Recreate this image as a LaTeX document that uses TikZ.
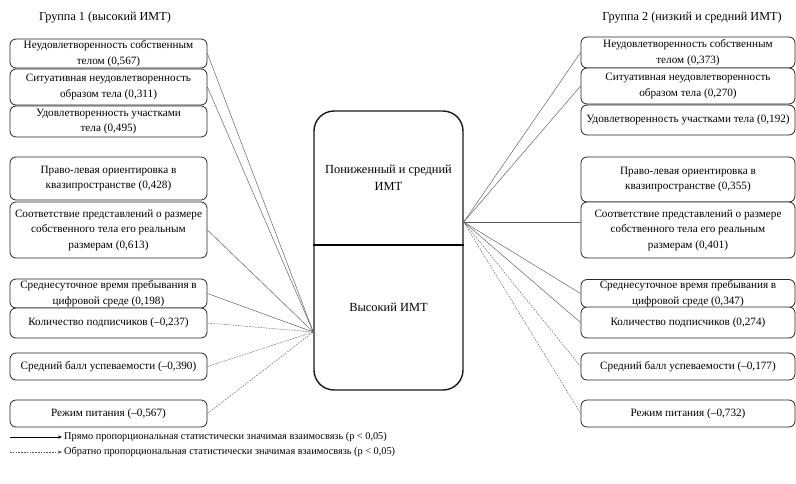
\documentclass[tikz,border=0pt]{standalone}
\usepackage{fontspec}
\setmainfont{Liberation Serif}
\usetikzlibrary{arrows.meta, positioning}
\tikzset{
        item box/.style={
		draw=black!85,
		line width=0.8pt,
		rounded corners=6pt,
		fill=white,
		align=center,
		inner sep=1pt,
		minimum width={#1},
		font=\fontsize{11.2}{15.5}\selectfont,
	  },
  		left box/.style={item box=197pt},
  		right box/.style={item box=214pt},
  		main box/.style={
    	draw=black!90,
    	line width=1.4pt,
    	rounded corners=20pt,
      },
  		heading/.style={font=\fontsize{12.2}{14}\selectfont},
  		centre text/.style={align=center, font=\fontsize{12.4}{17}\selectfont},
  		legend/.style={anchor=west, inner sep=2pt, font=\fontsize{10.3}{12}\selectfont},
  		link/.style={draw=black!65, line width=0.45pt},
  		neg link/.style={link, dash pattern=on 1.6pt off 1.2pt},
  	}
\begin{document}
\begin{tikzpicture}[x=1pt, y=-1pt]
    \useasboundingbox (0,0) rectangle (796,483);
    % group titles
    \node[heading] (h1) at (105,18) {Группа 1 (высокий ИМТ)};
    \node[heading] (h2) at (692,18) {Группа 2 (низкий и средний ИМТ)};

    % central block
    \node[main box, minimum width=149pt, minimum height=279pt] (main) at (388.5,250.5) {};
    \draw[line width=2pt] (main.west |- 0,245) -- (main.east |- 0,245);
    \node[centre text] (upper) at (388.5,178) {Пониженный и средний\\ИМТ};
    \node[centre text] (lower) at (388.5,307) {Высокий ИМТ};
    \coordinate (lc) at (main.west |- 0,332);
    \coordinate (rc) at (main.east |- 0,222);

    % group 1
    \node[left box, minimum height=29pt] (l1) at (108.5,53.5) {Неудовлетворенность собственным\\телом (0,567)};
    \node[left box, minimum height=36pt] (l2) at (108.5,87) {Ситуативная неудовлетворенность\\образом тела (0,311)};
    \node[left box, minimum height=31pt] (l3) at (108.5,121.5) {Удовлетворенность участками\\тела (0,495)};
    \node[left box, minimum height=43pt] (l4) at (108.5,178.5) {Право-левая ориентировка в\\квазипространстве (0,428)};
    \node[left box, minimum height=56pt] (l5) at (108.5,230) {Соответствие представлений о размере\\собственного тела его реальным\\размерам (0,613)};
    \node[left box, minimum height=29pt] (l6) at (108.5,293.5) {Среднесуточное время пребывания в\\цифровой среде (0,198)};
    \node[left box, minimum height=30pt] (l7) at (108.5,323) {Количество подписчиков (–0,237)};
    \node[left box, minimum height=27pt] (l8) at (108.5,366.5) {Средний балл успеваемости (–0,390)};
    \node[left box, minimum height=27pt] (l9) at (108.5,413.5) {Режим питания (–0,567)};

    % group 2
    \node[right box, minimum height=31pt] (r1) at (688,52.5) {Неудовлетворенность собственным\\телом (0,373)};
    \node[right box, minimum height=36pt] (r2) at (688,86) {Ситуативная неудовлетворенность\\образом тела (0,270)};
    \node[right box, minimum height=30pt] (r3) at (688,120) {Удовлетворенность участками тела (0,192)};
    \node[right box, minimum height=45pt] (r4) at (688,179.5) {Право-левая ориентировка в\\квазипространстве (0,355)};
    \node[right box, minimum height=56pt] (r5) at (688,230) {Соответствие представлений о размере\\собственного тела его реальным\\размерам (0,401)};
    \node[right box, minimum height=27pt] (r6) at (688,293.5) {Среднесуточное время пребывания в\\цифровой среде (0,347)};
    \node[right box, minimum height=31pt] (r7) at (688,322.5) {Количество подписчиков (0,274)};
    \node[right box, minimum height=27pt] (r8) at (688,366.5) {Средний балл успеваемости (–0,177)};
    \node[right box, minimum height=27pt] (r9) at (688,413.5) {Режим питания (–0,732)};

    % links
    \foreach \n in {l1,l2,l5,l6}
        \draw[link] (\n.east) -- (lc);
    \foreach \n in {l7,l8,l9}
        \draw[neg link] (\n.east) -- (lc);
    \foreach \n in {r1,r2,r6,r7}
        \draw[link] (rc) -- (\n.west);
    \draw[link] (rc) -- (rc -| r5.west);
    \foreach \n in {r8,r9}
        \draw[neg link] (rc) -- (\n.west);

    % legend
    \coordinate (a1) at (10,437);
    \coordinate (b1) at (62,437);
    \coordinate (a2) at (10,452);
    \coordinate (b2) at (62,452);
    \draw[black, line width=0.6pt, -{Stealth[length=4pt, width=3.2pt]}] (a1) -- (b1);
    \draw[neg link, -{Stealth[length=4pt, width=3.2pt]}] (a2) -- (b2);
    \node[legend] (g1) at (b1) {Прямо пропорциональная статистически значимая взаимосвязь (p < 0,05)};
    \node[legend] (g2) at (b2) {Обратно пропорциональная статистически значимая взаимосвязь (p < 0,05)};
\end{tikzpicture}
\end{document}
